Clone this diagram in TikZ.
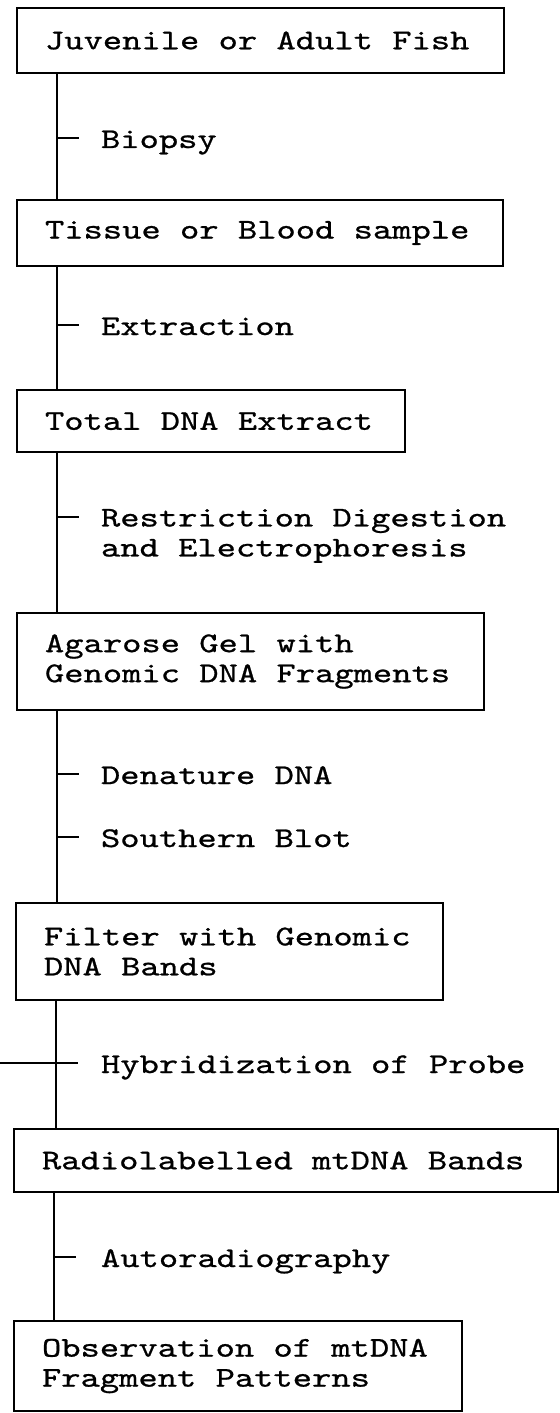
\documentclass[tikz,border=0pt]{standalone}
\usepackage{fontspec}
\setmonofont{lmmono10-regular.otf}[FakeStretch=1.285,FakeBold=0.8]
\begin{document}
\begin{tikzpicture}[x=0.5pt,y=-0.5pt,
  every node/.style={font=\ttfamily\fontsize{14.3}{15}\selectfont},
  stage/.style={draw, line width=1pt, anchor=north west, inner xsep=14pt,
    inner ysep=0pt, outer sep=0pt, align=left,
    execute at begin node={\spaceskip=0pt\xspaceskip=0pt\relax}},
  lbl/.style={inner sep=0pt, outer sep=0pt, align=left},
  wire/.style={line width=0.9pt},
  tick/.style={line width=0.9pt}]
\useasboundingbox (0,0) rectangle (560,1413);

% process stages
\node[stage, text width=215.5pt, minimum height=32.5pt] (b1) at (17,8)
  {\mbox{Juvenile or Adult Fish}};
\node[stage, text width=215pt, minimum height=33pt] (b2) at (17,200)
  {\mbox{Tissue or Blood sample}};
\node[stage, text width=166pt, minimum height=31pt] (b3) at (17,390)
  {\mbox{Total DNA Extract}};
\node[stage, text width=205.5pt, minimum height=48.5pt] (b4) at (17,613)
  {\mbox{Agarose Gel with}\\\mbox{Genomic DNA Fragments}};
\node[stage, text width=185.5pt, minimum height=48.5pt] (b5) at (16,903)
  {\mbox{Filter with Genomic}\\\mbox{DNA Bands}};
\node[stage, text width=244pt, minimum height=31.5pt] (b6) at (14,1129)
  {\mbox{Radiolabelled mtDNA Bands}};
\node[stage, text width=196pt, minimum height=45pt] (b7) at (14,1321)
  {\mbox{Observation of mtDNA}\\\mbox{Fragment Patterns}};

% procedure labels
\node[lbl, anchor=base west] (biopsy) at (101,148) {Biopsy};
\node[lbl, anchor=base west] (extr) at (101,335) {Extraction};
\node[lbl, anchor=north west] (restr) at (101,509)
  {Restriction Digestion\\and Electrophoresis};
\node[lbl, anchor=base west] (denat) at (101,784) {Denature DNA};
\node[lbl, anchor=base west] (blot) at (101,847) {Southern Blot};
\node[lbl, anchor=base west] (hyb) at (101,1073) {Hybridization of Probe};
\node[lbl, anchor=base west] (autorad) at (101,1267) {Autoradiography};

% spine points below each stage
\coordinate (sp1) at ([xshift=20pt]b1.south west);
\coordinate (sp2) at ([xshift=20pt]b2.south west);
\coordinate (sp3) at ([xshift=20pt]b3.south west);
\coordinate (sp4) at ([xshift=20pt]b4.south west);
\coordinate (sp5) at ([xshift=20pt]b5.south west);
\coordinate (sp6) at ([xshift=20pt]b6.south west);
\coordinate (leftedge) at (0,0);

% vertical connectors
\draw[wire] (sp1) -- (sp1 |- b2.north);
\draw[wire] (sp2) -- (sp2 |- b3.north);
\draw[wire] (sp3) -- (sp3 |- b4.north);
\draw[wire] (sp4) -- (sp4 |- b5.north);
\draw[wire] (sp5) -- (sp5 |- b6.north);
\draw[wire] (sp6) -- (sp6 |- b7.north);

% side ticks to the procedure labels
\draw[tick] ([yshift=5pt]biopsy.base west -| sp1) -- ++(11pt,0);
\draw[tick] ([yshift=5pt]extr.base west -| sp2) -- ++(11pt,0);
\draw[tick] ([yshift=-4pt]restr.north west -| sp3) -- ++(11pt,0);
\draw[tick] ([yshift=5pt]denat.base west -| sp4) -- ++(11pt,0);
\draw[tick] ([yshift=5pt]blot.base west -| sp4) -- ++(11pt,0);
\draw[tick] ([yshift=5pt]hyb.base west -| leftedge) -- ([yshift=5pt]hyb.base west -| sp5) -- ++(11pt,0);
\draw[tick] ([yshift=5pt]autorad.base west -| sp6) -- ++(11pt,0);
\end{tikzpicture}
\end{document}
